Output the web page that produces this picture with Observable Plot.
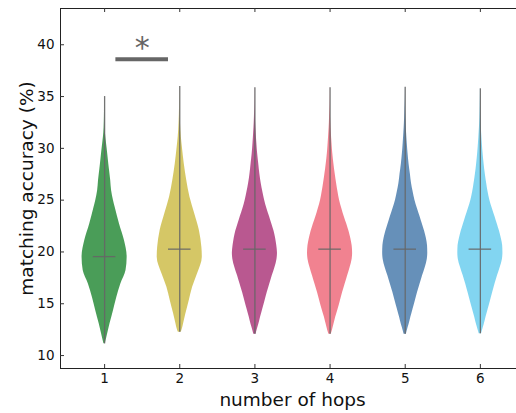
<!DOCTYPE html>
<html>
<head>
<meta charset="utf-8">
<script src="https://cdn.jsdelivr.net/npm/d3@7"></script>
<script src="https://cdn.jsdelivr.net/npm/@observablehq/plot@0.6"></script>
<style>
  html, body { margin: 0; padding: 0; background: #fff; overflow: hidden; }
  #chart svg { display: block; }
</style>
</head>
<body>
<div id="chart"></div>
<script>
// ---- data ----
const hops = [1, 2, 3, 4, 5, 6];
const colors = ["#228833", "#CCBB44", "#AA3377", "#EE6677", "#4477AA", "#66CCEE"];
const mins = [11.13, 12.25, 12.05, 12.05, 12.05, 12.1];
const maxs = [35.0, 35.97, 35.85, 35.85, 35.9, 35.75];
const medians = [19.55, 20.27, 20.27, 20.27, 20.27, 20.27];

// density profiles: [accuracy value, relative density (1 = widest)]
const violin1 = [[11.13,0.03],[11.77,0.10],[13.06,0.24],[14.3,0.39],[15.6,0.54],[16.9,0.72],[18.2,0.95],[19.5,1.0],[21.1,0.88],[22.7,0.66],[24.3,0.47],[25.0,0.39],[25.9,0.31],[26.9,0.27],[28.0,0.21],[29.0,0.16],[30.0,0.11],[30.75,0.07],[31.5,0.035],[32.5,0.015],[33.5,0.006],[35.0,0.002]];
const violin2 = [[12.25,0.06],[12.4,0.09],[13.06,0.17],[14.0,0.27],[15.3,0.42],[16.6,0.57],[17.9,0.79],[19.5,1.0],[20.45,0.98],[22.07,0.87],[23.7,0.66],[25.3,0.45],[26.9,0.31],[28.5,0.2],[30.0,0.12],[31.07,0.07],[32.5,0.03],[34.0,0.01],[35.97,0.002]];
const violin3 = [[12.05,0.05],[12.4,0.09],[13.0,0.17],[13.7,0.25],[14.5,0.35],[15.3,0.45],[16.1,0.55],[16.9,0.66],[17.7,0.77],[18.5,0.89],[19.3,0.98],[19.9,1.0],[20.6,0.97],[21.3,0.92],[22.0,0.85],[22.7,0.75],[23.4,0.65],[24.2,0.53],[25.0,0.43],[25.8,0.35],[26.6,0.28],[27.5,0.22],[28.5,0.17],[29.5,0.12],[30.5,0.085],[31.5,0.055],[32.5,0.03],[33.5,0.015],[34.7,0.005],[35.85,0.002]];
const violin4 = [[12.05,0.05],[12.4,0.10],[13.0,0.17],[13.7,0.25],[14.5,0.36],[15.3,0.46],[16.1,0.56],[16.9,0.67],[17.7,0.78],[18.5,0.89],[19.3,0.98],[19.9,1.0],[20.6,0.98],[21.3,0.92],[22.0,0.84],[22.7,0.74],[23.4,0.63],[24.2,0.52],[25.0,0.42],[25.8,0.35],[26.6,0.29],[27.5,0.23],[28.5,0.17],[29.5,0.12],[30.5,0.085],[31.5,0.055],[32.5,0.03],[33.5,0.015],[34.7,0.005],[35.85,0.002]];
const violin5 = [[12.05,0.05],[12.4,0.09],[13.0,0.17],[13.7,0.25],[14.5,0.35],[15.3,0.45],[16.1,0.55],[16.9,0.66],[17.7,0.77],[18.5,0.89],[19.3,0.98],[19.9,1.0],[20.6,0.99],[21.3,0.94],[22.0,0.86],[22.7,0.76],[23.4,0.66],[24.2,0.54],[25.0,0.43],[25.8,0.35],[26.6,0.28],[27.5,0.23],[28.5,0.17],[29.5,0.125],[30.5,0.09],[31.5,0.06],[32.5,0.035],[33.5,0.017],[34.7,0.006],[35.9,0.002]];
const violin6 = [[12.1,0.05],[12.4,0.09],[13.0,0.17],[13.7,0.25],[14.5,0.35],[15.3,0.45],[16.1,0.55],[16.9,0.65],[17.7,0.76],[18.5,0.88],[19.3,0.98],[19.9,1.0],[20.6,0.99],[21.3,0.93],[22.0,0.85],[22.7,0.75],[23.4,0.65],[24.2,0.53],[25.0,0.42],[25.8,0.34],[26.6,0.28],[27.5,0.22],[28.5,0.165],[29.5,0.12],[30.5,0.085],[31.5,0.055],[32.5,0.03],[33.5,0.015],[34.7,0.005],[35.75,0.002]];
const profiles = [violin1, violin2, violin3, violin4, violin5, violin6];

const xTicks = [1, 2, 3, 4, 5, 6];
const yTicks = [10, 15, 20, 25, 30, 35, 40];
const xLabel = "number of hops";
const yLabel = "matching accuracy (%)";

// significance annotation between hop 1 and hop 2
const sigFrom = [1];
const sigTo = [2];
const sigLevel = [38.6];
const sigLabel = ["*"];

// ---- layout ----
const W = 516, H = 413;
const mL = 60, mT = 8, mB = 45, mR = 0;
const xDomain = [0.413, 6.587];
const yDomain = [8.75, 43.5];
const halfWidth = 0.3;     // violin max half width (hop units)
const medHalf = 0.15;      // median tick half width
const tickLen = 4;
const plotW = W - mL - mR, plotH = H - mT - mB;

const area = [];
profiles.forEach((prof, i) => {
  prof.forEach(([v, d]) => area.push({hop: hops[i], y: v, x1: hops[i] - halfWidth * d, x2: hops[i] + halfWidth * d, color: colors[i]}));
});
const stats = hops.map((h, i) => ({hop: h, min: mins[i], max: maxs[i], med: medians[i]}));
const sig = sigFrom.map((f, i) => ({x1: f + 0.15, x2: sigTo[i] - 0.15, xm: (f + sigTo[i]) / 2, y: sigLevel[i], label: sigLabel[i]}));

const lineColor = "#666666";
const frameColor = "#222222";

const chart = Plot.plot({
  width: W, height: H,
  marginLeft: mL, marginTop: mT, marginBottom: mB, marginRight: mR,
  style: {fontFamily: "DejaVu Sans", fontSize: "13.5px", color: "#111", background: "#fff"},
  x: {domain: xDomain, range: [mL, mL + (xDomain[1] - xDomain[0]) * 75.15], ticks: xTicks, tickFormat: d3.format("d"), tickSize: 0, tickPadding: 5, label: null},
  y: {domain: yDomain, ticks: yTicks, tickFormat: d3.format("d"), tickSize: 0, tickPadding: 6, label: null},
  marks: [
    Plot.areaX(area, {y: "y", x1: "x1", x2: "x2", z: "hop", fill: "color", fillOpacity: 0.82, curve: "monotone-y"}),
    Plot.ruleX(stats, {x: "hop", y1: "min", y2: "max", stroke: lineColor, strokeWidth: 1.3, strokeOpacity: 0.9}),
    Plot.ruleY(stats, {y: "med", x1: d => d.hop - medHalf, x2: d => d.hop + medHalf, stroke: lineColor, strokeWidth: 1.3, strokeOpacity: 0.9}),
    // significance bar and star
    Plot.ruleY(sig, {y: "y", x1: "x1", x2: "x2", stroke: "#666", strokeWidth: 4}),
    Plot.text(sig, {x: "xm", y: "y", text: "label", fill: "#666", fontSize: 30, lineAnchor: "bottom", dy: -1}),
    // frame
    Plot.ruleY([yDomain[0]], {stroke: frameColor, strokeWidth: 1}),
    Plot.ruleY([yDomain[1]], {stroke: frameColor, strokeWidth: 1}),
    Plot.ruleX([xDomain[0]], {stroke: frameColor, strokeWidth: 1}),
    // inward ticks
    Plot.tickY(yTicks, {y: d => d, insetRight: plotW - tickLen, stroke: "#333"}),
    Plot.tickX(xTicks, {x: d => d, insetTop: plotH - tickLen, stroke: "#333"}),
    Plot.tickX(xTicks, {x: d => d, insetBottom: plotH - tickLen, stroke: "#333"}),
    // axis titles
    Plot.text([xLabel], {x: () => (xDomain[0] + xDomain[1]) / 2, frameAnchor: "bottom", dy: 37, lineAnchor: "bottom", textAnchor: "middle", fontSize: 18.5, fill: "#111"}),
    Plot.text([yLabel], {frameAnchor: "left", dx: -28, rotate: -90, lineAnchor: "bottom", textAnchor: "middle", fontSize: 18.5, fill: "#111"})
  ]
});
document.getElementById("chart").appendChild(chart);
</script>
</body>
</html>
